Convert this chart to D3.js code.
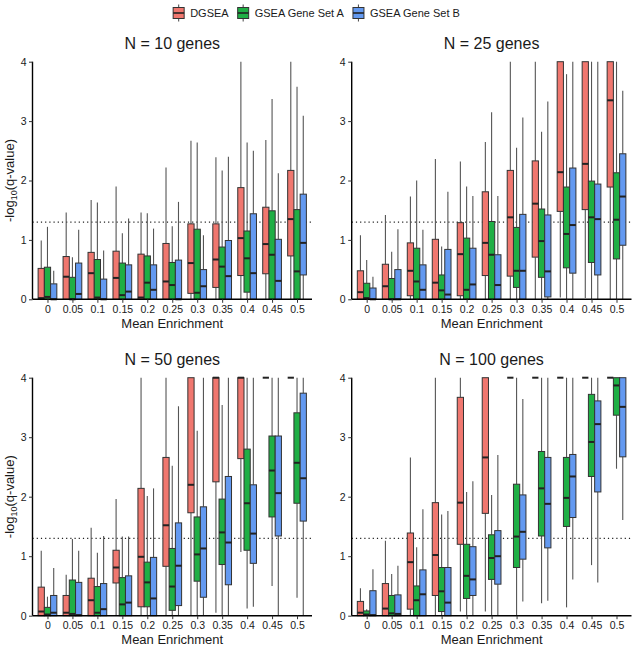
<!DOCTYPE html>
<html>
<head>
<meta charset="utf-8">
<script src="https://cdn.jsdelivr.net/npm/d3@7"></script>
<style>
  html, body { margin: 0; padding: 0; background: #fff; }
  svg { display: block; font-family: "Liberation Sans", Arial, Helvetica, sans-serif; }
</style>
</head>
<body>
<svg id="chart" width="633" height="646"></svg>
<script>
// ---------- data ----------
const categories = ["0", "0.05", "0.1", "0.15", "0.2", "0.25", "0.3", "0.35", "0.4", "0.45", "0.5"];
const seriesNames = ["DGSEA", "GSEA Gene Set A", "GSEA Gene Set B"];
const seriesColors = ["#F0776F", "#1FAF45", "#6399F0"];
const yTicks = [0, 1, 2, 3, 4];
const sigLine = 1.3;
const panelTitles = ["N = 10 genes", "N = 25 genes", "N = 50 genes", "N = 100 genes"];

// each entry: [lower whisker, q1, median, q3, upper whisker]
const n10_DGSEA = [[0,0,0.02,0.52,0.99],[0,0,0.38,0.72,1.46],[0,0,0.44,0.79,1.67],[0,0,0.36,0.81,1.9],[0,0,0.03,0.76,1.46],[0,0,0.30,0.94,2.22],[0,0.1,0.61,1.27,2.67],[0,0.2,0.67,1.27,2.39],[0,0.4,1.03,1.88,4],[0,0.43,0.93,1.55,2.68],[0,0.73,1.35,2.17,4]];
const n10_GSEA_A = [[0,0,0.04,0.54,1.22],[0,0,0.0,0.37,0.71],[0,0,0.03,0.67,1.63],[0,0,0.07,0.61,1.11],[0,0,0.28,0.73,1.45],[0,0,0.24,0.62,1.23],[0,0,0.11,1.18,2.64],[0,0,0.55,0.88,2.17],[0,0.12,0.69,1.15,2.64],[0,0,0.75,1.49,3.37],[0,0,0.47,1.51,3.58]];
const n10_GSEA_B = [[0,0,0.0,0.26,0.48],[0,0,0.09,0.61,1.17],[0,0,0.0,0.34,0.82],[0,0,0.13,0.58,1.36],[0,0,0.16,0.58,1.19],[0,0,0.0,0.66,1.64],[0,0,0.22,0.5,1.08],[0,0,0.39,0.99,2.40],[0,0,0.44,1.44,2.5],[0,0,0.31,1.01,2.12],[0,0.41,0.95,1.77,3.09]];

const n25_DGSEA = [[0,0,0.12,0.48,1.08],[0,0,0.22,0.59,1.42],[0,0.06,0.48,0.95,1.73],[0,0,0.28,1.01,2.36],[0,0.06,0.76,1.29,2.32],[0,0.4,0.95,1.81,2.65],[0,0.39,1.38,2.17,4],[0,0.71,1.61,2.33,4],[0.03,1.48,2.14,4,4],[0.02,1.51,2.28,4,4],[0,1.89,3.35,4,4]];
const n25_GSEA_A = [[0,0,0.02,0.27,0.66],[0,0,0.0,0.35,0.80],[0,0,0.30,0.86,2.0],[0,0,0.15,0.41,0.89],[0,0,0.16,1.03,1.9],[0,0,0.75,1.31,3.15],[0,0.2,0.48,1.21,2.55],[0,0.37,0.98,1.52,2.82],[0,0.53,1.10,1.89,3.79],[0,0.62,1.38,1.99,4],[0,0.68,1.34,2.13,4]];
const n25_GSEA_B = [[0,0,0.0,0.19,0.38],[0,0,0.0,0.5,1.18],[0,0,0.16,0.58,1.17],[0,0,0.08,0.84,1.81],[0,0,0.25,0.86,1.74],[0,0,0.24,0.75,1.74],[0,0,0.48,1.43,3.06],[0,0.04,0.47,1.42,3.33],[0,0.44,1.25,2.21,4],[0,0.41,1.35,1.94,4],[0,0.91,1.73,2.45,3.51]];

const n50_DGSEA = [[0,0,0.07,0.48,1.09],[0,0,0.05,0.34,0.69],[0,0,0.26,0.63,1.48],[0,0.55,0.81,1.1,1.96],[0,0.15,0.99,2.14,4],[0,0.83,1.52,2.66,4],[0,1.73,2.2,4,4],[0.05,2.25,4,4,4],[1.07,2.64,4,4,4],[4,4,4,4,4],[4,4,4,4,4]];
const n50_GSEA_A = [[0,0,0.02,0.14,0.32],[0,0,0.03,0.6,1.29],[0,0,0.05,0.49,1.06],[0,0,0.19,0.64,1.33],[0,0.15,0.56,0.9,2.01],[0,0.09,0.49,1.13,2.52],[0,0.58,1.03,1.66,3.11],[0,0.86,1.4,1.96,3.54],[0.12,1.1,1.89,2.8,4],[0.5,1.66,2.44,3.02,4],[0.3,1.89,2.57,3.41,4]];
const n50_GSEA_B = [[0,0,0.05,0.34,0.8],[0,0,0.01,0.56,1.09],[0,0,0.11,0.54,1.34],[0,0,0.22,0.67,1.33],[0,0,0.29,0.98,2.14],[0,0.17,0.84,1.56,3.52],[0,0.31,1.13,1.83,4],[0,0.52,1.23,2.34,4],[0.15,0.88,1.38,2.2,4],[0,1.34,2.06,3.02,4],[0,1.59,2.31,3.74,4]];

const n100_DGSEA = [[0,0,0.05,0.24,0.46],[0,0,0.12,0.54,1.26],[0,0.11,0.9,1.39,2.66],[0,0.34,1.02,1.9,4],[0.07,1.2,1.9,3.67,4],[0.07,1.72,2.66,4,4],[4,4,4,4,4],[4,4,4,4,4],[4,4,4,4,4],[4,4,4,4,4],[4,4,4,4,4]];
const n100_GSEA_A = [[0,0,0.02,0.08,0.11],[0,0,0.04,0.34,0.7],[0,0,0.26,0.5,1.15],[0,0.07,0.41,0.81,1.7],[0,0.29,0.67,1.2,2.08],[0,0.61,0.97,1.36,2.03],[0,0.81,1.33,2.21,4],[0.21,1.34,2.14,2.76,4],[0.14,1.5,1.98,2.66,4],[0.85,2.34,2.92,3.72,4],[2.47,3.37,3.87,4,4]];
const n100_GSEA_B = [[0,0,0.01,0.42,0.78],[0,0,0.03,0.35,0.84],[0,0,0.36,0.77,1.79],[0,0,0.22,0.81,1.76],[0,0.34,0.61,1.16,2.26],[0,0.53,1.0,1.43,2.7],[0.24,0.95,1.41,2.03,3.64],[0.25,1.14,1.88,2.66,4],[0.61,1.65,2.34,2.71,4],[0.56,2.08,3.22,3.61,4],[1.61,2.67,3.51,4,4]];

// ---------- layout ----------
const panelData = [
  [n10_DGSEA, n10_GSEA_A, n10_GSEA_B],
  [n25_DGSEA, n25_GSEA_A, n25_GSEA_B],
  [n50_DGSEA, n50_GSEA_A, n50_GSEA_B],
  [n100_DGSEA, n100_GSEA_A, n100_GSEA_B]
];
const panelBoxes = [
  {x0: 32.5, x1: 312, yTop: 61.7, yBot: 299.3, yTitle: true},
  {x0: 351.7, x1: 631.5, yTop: 61.7, yBot: 299.3, yTitle: false},
  {x0: 32.5, x1: 312, yTop: 377.7, yBot: 615.7, yTitle: true},
  {x0: 351.7, x1: 631.5, yTop: 377.7, yBot: 615.7, yTitle: false}
];

const svg = d3.select("#chart");
const textCol = "#1a1a1a";

panelBoxes.forEach((pb, pi) => {
  const g = svg.append("g");
  const x = d3.scalePoint().domain(categories).range([pb.x0, pb.x1]).padding(0.6);
  const y = d3.scaleLinear().domain([0, 4]).range([pb.yBot, pb.yTop]);
  const step = x.step();
  const bw = step * 0.75 / 3;

  // significance dotted line
  g.append("line")
    .attr("x1", pb.x0).attr("x2", pb.x1)
    .attr("y1", y(sigLine)).attr("y2", y(sigLine))
    .attr("stroke", "#222").attr("stroke-width", 1.1)
    .attr("stroke-dasharray", "1.2,3");

  panelData[pi].forEach((series, si) => {
    const off = (si - 1) * bw;
    const sg = g.append("g");
    series.forEach((d, ci) => {
      const cx = x(categories[ci]) + off;
      const [lo, q1, med, q3, hi] = d;
      // whiskers
      sg.append("line").attr("x1", cx).attr("x2", cx)
        .attr("y1", y(hi)).attr("y2", y(q3))
        .attr("stroke", "#555").attr("stroke-width", 1.1);
      sg.append("line").attr("x1", cx).attr("x2", cx)
        .attr("y1", y(q1)).attr("y2", y(lo))
        .attr("stroke", "#555").attr("stroke-width", 1.1);
      // box
      sg.append("rect")
        .attr("x", cx - bw / 2).attr("width", bw)
        .attr("y", y(q3)).attr("height", Math.max(0, y(q1) - y(q3)))
        .attr("fill", seriesColors[si])
        .attr("stroke", "#333").attr("stroke-width", 1);
      // median
      sg.append("line")
        .attr("x1", cx - bw / 2).attr("x2", cx + bw / 2)
        .attr("y1", y(med)).attr("y2", y(med))
        .attr("stroke", "#222").attr("stroke-width", 2);
    });
  });

  // axes
  const ax = g.append("g").attr("transform", `translate(0,${pb.yBot})`)
    .call(d3.axisBottom(x).tickSize(3.5).tickPadding(2.5));
  const ay = g.append("g").attr("transform", `translate(${pb.x0},0)`)
    .call(d3.axisLeft(y).tickValues(yTicks).tickFormat(d3.format("d")).tickSize(3.5).tickPadding(2.5));
  [ax, ay].forEach(a => {
    a.select(".domain").attr("stroke", "#000").attr("stroke-width", 1.4);
    a.selectAll(".tick line").attr("stroke", "#333").attr("stroke-width", 1);
    a.selectAll(".tick text").attr("fill", textCol).attr("font-size", 10.5)
      .attr("font-family", "Liberation Sans, Arial, sans-serif");
  });
  // fix x axis domain to exact panel span
  ax.select(".domain").attr("d", `M${pb.x0},0H${pb.x1}`);
  ay.select(".domain").attr("d", `M0,${pb.yBot}V${pb.yTop}`);

  // panel title
  g.append("text")
    .attr("x", (pb.x0 + pb.x1) / 2).attr("y", pb.yTop - 13)
    .attr("text-anchor", "middle").attr("font-size", 16).attr("fill", textCol)
    .text(panelTitles[pi]);

  // x axis title
  g.append("text")
    .attr("x", (pb.x0 + pb.x1) / 2).attr("y", pb.yBot + 28.5)
    .attr("text-anchor", "middle").attr("font-size", 13).attr("fill", textCol)
    .text("Mean Enrichment");

  // y axis title
  if (pb.yTitle) {
    const t = g.append("text")
      .attr("transform", `translate(14,${(pb.yTop + pb.yBot) / 2}) rotate(-90)`)
      .attr("text-anchor", "middle").attr("font-size", 13).attr("fill", textCol);
    t.append("tspan").text("-log");
    t.append("tspan").attr("font-size", 9).attr("dy", 3).text("10");
    t.append("tspan").attr("dy", -3).text("(q-value)");
  }
});

// ---------- legend ----------
const leg = svg.append("g");
const legY = 13;
const keyW = 11, keyH = 11;
let items = [];
let cursor = 0;
seriesNames.forEach((name, i) => {
  const gi = leg.append("g");
  gi.append("line").attr("x1", keyW / 2).attr("x2", keyW / 2)
    .attr("y1", -keyH / 2 - 3).attr("y2", keyH / 2 + 3)
    .attr("stroke", "#555").attr("stroke-width", 1.1);
  gi.append("rect").attr("x", 0).attr("y", -keyH / 2).attr("width", keyW).attr("height", keyH)
    .attr("fill", seriesColors[i]).attr("stroke", "#333").attr("stroke-width", 1);
  gi.append("line").attr("x1", 0).attr("x2", keyW).attr("y1", 0).attr("y2", 0)
    .attr("stroke", "#222").attr("stroke-width", 1.6);
  const txt = gi.append("text").attr("x", keyW + 6).attr("y", 4)
    .attr("font-size", 11).attr("fill", textCol).text(name);
  const w = keyW + 6 + txt.node().getComputedTextLength();
  items.push({gi, w});
});
const gap = 9;
const total = d3.sum(items, d => d.w) + gap * (items.length - 1);
let lx = 316.5 - total / 2;
items.forEach(it => {
  it.gi.attr("transform", `translate(${lx},${legY})`);
  lx += it.w + gap;
});
</script>
</body>
</html>
